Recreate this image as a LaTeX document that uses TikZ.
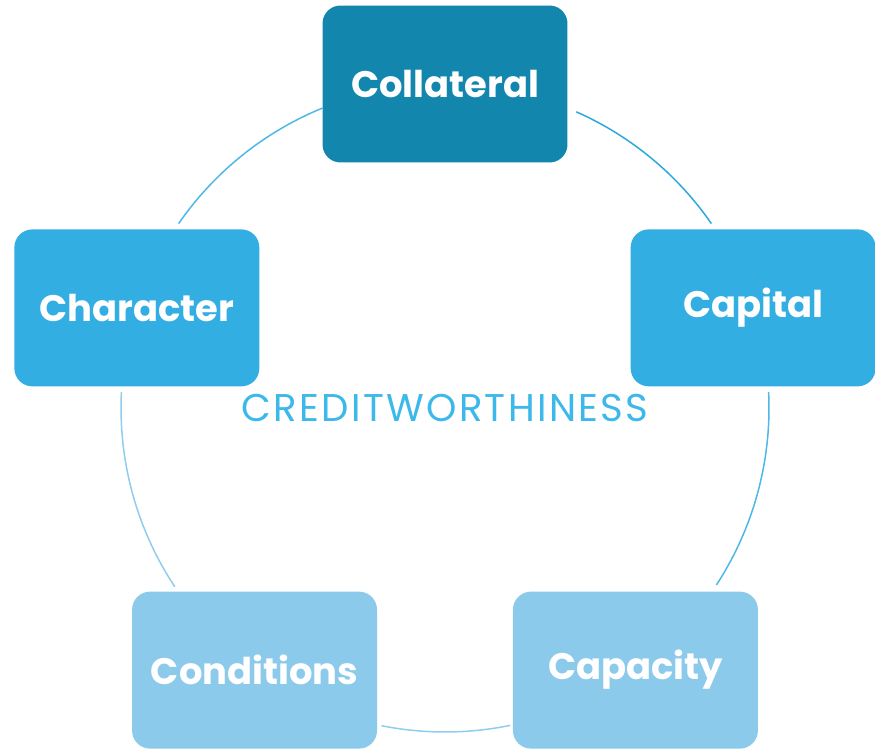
\documentclass[tikz,border=0pt]{standalone}
\usepackage{fontspec}
\setmainfont{Poppins}
\definecolor{tealbox}{HTML}{1386AD}
\definecolor{bluebox}{HTML}{33AEE3}
\definecolor{lightbox}{HTML}{8CCAEC}
\definecolor{arcblue}{HTML}{2AA9DE}
\definecolor{arcmid}{HTML}{4DB8E6}
\definecolor{arclight}{HTML}{90CCEE}
\definecolor{labelblue}{HTML}{3DB8EA}
\begin{document}
\begin{tikzpicture}
  [x=0.02cm, y=0.02cm,
    factor/.style={
      rectangle,
      rounded corners=0.36cm,
      minimum width=4.9cm,
      minimum height=3.14cm,
      text=white,
      font=\fontsize{21}{25}\selectfont\bfseries
    },
    ring/.style={
      line width=0.85pt
    },
  ]
\useasboundingbox (-445,-342) rectangle (430,408);

% Centre of the ring and its label
\coordinate (o) at (0,0);
\node [text=labelblue, font=\fontsize{22}{26}\selectfont\addfontfeature{LetterSpace=6}] (centre) at (o) {CREDITWORTHINESS};

% Draw the five factors round the ring
\foreach \n/\a/\t/\c in {coll/90/Collateral/tealbox, capi/18/Capital/bluebox,
    capa/-54/Capacity/lightbox, cond/234/Conditions/lightbox, char/162/Character/bluebox}
  \node [factor, fill=\c] (\n) at (\a:324) {\t};

% Ring pieces between neighbouring factors
\foreach \s/\e/\c in {145.3/112.2/arcmid, 66.1/34.7/arcblue, 2.8/-33.1/arcmid,
    -78.4/-101.3/arclight, 213.5/177.2/arclight}
  \draw [ring, draw=\c] ([shift={(\s:324)}]o) arc [start angle=\s, end angle=\e, radius=324];
\end{tikzpicture}
\end{document}
